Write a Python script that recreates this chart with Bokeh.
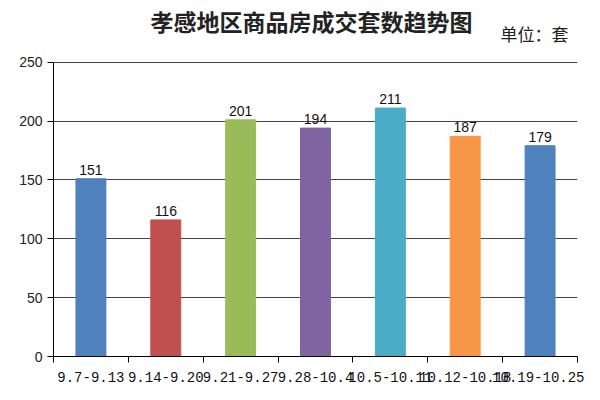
from bokeh.plotting import figure
from bokeh.models import Range1d, FixedTicker, ColumnDataSource
from bokeh.core.properties import value
from bokeh.embed import file_html
from bokeh.resources import INLINE

categories = ["9.7-9.13", "9.14-9.20", "9.21-9.27", "9.28-10.4", "10.5-10.11", "10.12-10.18", "10.19-10.25"]
counts = [151, 116, 201, 194, 211, 187, 179]
colors = ["#4F81BD", "#C0504D", "#9BBB59", "#8064A2", "#4BACC6", "#F79646", "#4F81BD"]
y_ticks = [0, 50, 100, 150, 200, 250]
title_text = "孝感地区商品房成交套数趋势图"
unit_text = "单位：套"

n = len(categories)
centers = [i + 0.5 for i in range(n)]
bounds = list(range(n + 1))

# frame spans to the figure top; value 250 sits 62px below top
frame_h = 384 - 26
px_per_unit = 296 / 250
y_top = frame_h / px_per_unit

def y_at(px_from_top):
    return (frame_h - px_from_top) / px_per_unit

p = figure(width=584, height=384, output_backend="svg", toolbar_location=None,
           x_range=Range1d(0, n), y_range=Range1d(0, y_top),
           min_border_left=53, min_border_right=7, min_border_top=0, min_border_bottom=26)
p.outline_line_color = None
p.background_fill_color = "white"
p.border_fill_color = "white"

src = ColumnDataSource(dict(x=centers, top=counts, color=colors,
                            label=[str(c) for c in counts]))
p.vbar(x="x", top="top", width=0.4, color="color", source=src)
p.text(x="x", y="top", text="label", source=src, text_align="center",
       text_baseline="bottom", y_offset=-4, text_font_size="14px",
       text_font=value("Liberation Sans"), text_color="#111")

p.text(x=[n / 2 * 0.985], y=[y_at(21)], text=[title_text], text_align="center",
       text_baseline="middle", text_font=value("Noto Sans CJK SC"),
       text_font_style="bold", text_font_size="23px", text_color="#222")
p.text(x=[n], y=[y_at(33)], text=[unit_text], x_offset=-9, text_align="right",
       text_baseline="middle", text_font=value("Noto Sans CJK SC"),
       text_font_size="17px", text_color="#222")

p.xgrid.grid_line_color = None
p.ygrid.grid_line_color = "#444"
p.ygrid.ticker = FixedTicker(ticks=y_ticks)

p.yaxis.ticker = FixedTicker(ticks=y_ticks)
p.yaxis.bounds = (0, 250)
p.yaxis.axis_line_color = "black"
p.yaxis.major_tick_line_color = "black"
p.yaxis.major_tick_out = 6
p.yaxis.major_tick_in = 0
p.yaxis.minor_tick_line_color = None
p.yaxis.major_label_text_font = "Liberation Sans"
p.yaxis.major_label_text_font_size = "14px"
p.yaxis.major_label_text_color = "#222"
p.yaxis.major_label_standoff = 5

p.xaxis.ticker = FixedTicker(ticks=centers, minor_ticks=bounds)
p.xaxis.major_label_overrides = {c: lab for c, lab in zip(centers, categories)}
p.xaxis.axis_line_color = "black"
p.xaxis.major_tick_line_color = None
p.xaxis.minor_tick_line_color = "black"
p.xaxis.minor_tick_out = 6
p.xaxis.minor_tick_in = 0
p.xaxis.major_label_text_font = "Liberation Mono"
p.xaxis.major_label_text_font_size = "14px"
p.xaxis.major_label_text_color = "#111"
p.xaxis.major_label_standoff = 9

open("out.html", "w").write(file_html(p, INLINE))
